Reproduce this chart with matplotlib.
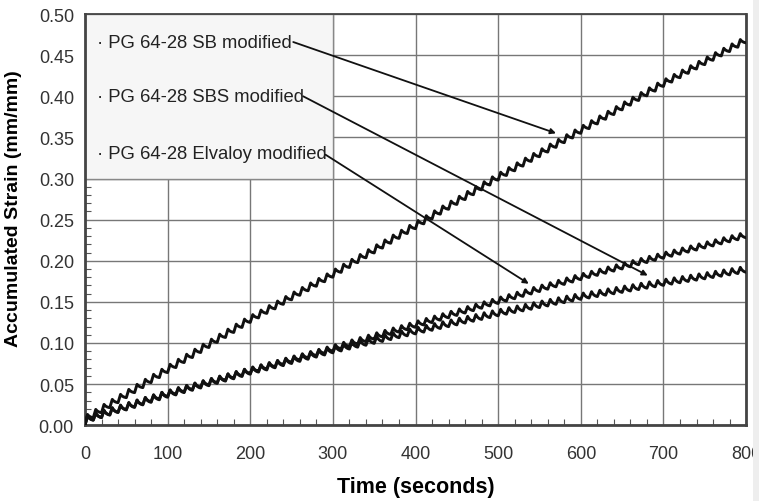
import matplotlib.pyplot as plt
import numpy as np
from matplotlib.ticker import MultipleLocator

plt.rcParams['font.family'] = ['Liberation Sans', 'DejaVu Sans']

# strain read at the end of each 100 s block (mm/mm)
time_marks = [0, 100, 200, 300, 400, 500, 600, 700, 800]
sb_strain = [0.003, 0.064, 0.125, 0.180, 0.239, 0.298, 0.355, 0.412, 0.465]
sbs_strain = [0.003, 0.034, 0.062, 0.088, 0.111, 0.133, 0.153, 0.170, 0.186]
elvaloy_strain = [0.003, 0.035, 0.063, 0.090, 0.119, 0.148, 0.177, 0.203, 0.228]

# strain given back during the rest part of each cycle
sb_recovery = 0.004
sbs_recovery = 0.006
elvaloy_recovery = 0.005

labels = ['PG 64-28 SB modified', 'PG 64-28 SBS modified', 'PG 64-28 Elvaloy modified']
label_y = [0.466, 0.400, 0.330]
arrow_tail = [(252, 0.466), (264, 0.400), (291, 0.329)]
arrow_head = [(570, 0.355), (681, 0.182), (537, 0.172)]

cycle_len = 10
rest_shape = [0.30, 0.52, 0.68, 0.80, 0.89, 0.95, 1.0]


def creep_recovery(marks, strain, recovery):
    # load then rest, repeated over the whole test
    t = [0.0]
    s = [0.0]
    for t0 in range(0, marks[-1], cycle_len):
        end = np.interp(t0 + cycle_len, marks, strain)
        peak = end + recovery
        t.append(t0 + 3)
        s.append(peak)
        for k, f in enumerate(rest_shape):
            t.append(t0 + 4 + k)
            s.append(peak - recovery * f)
    return np.array(t), np.array(s)


fig = plt.figure(figsize=(7.59, 5.02), dpi=100)
ax = fig.add_axes([0.112, 0.151, 0.871, 0.819])

for strain, rec in [(sb_strain, sb_recovery), (sbs_strain, sbs_recovery),
                    (elvaloy_strain, elvaloy_recovery)]:
    t, s = creep_recovery(time_marks, strain, rec)
    ax.plot(t, s, color='#111111', lw=2.1, zorder=3)

ax.set_xlim(0, 800)
ax.set_ylim(0, 0.5)
ax.xaxis.set_major_locator(MultipleLocator(100))
ax.yaxis.set_major_locator(MultipleLocator(0.05))
ax.xaxis.set_minor_locator(MultipleLocator(20))
ax.yaxis.set_minor_locator(MultipleLocator(0.01))
ax.yaxis.set_major_formatter(plt.FormatStrFormatter('%.2f'))
ax.grid(True, which='major', color='#777777', lw=1.0, zorder=0)
ax.tick_params(which='major', length=0, labelsize=13, labelcolor='#333333', pad=8)
ax.tick_params(which='minor', direction='in', length=4, width=0.8, color='#555555')
ax.tick_params(axis='x', pad=14)
for sp in ax.spines.values():
    sp.set_color('#444444')
    sp.set_linewidth(1.3)
ax.spines['left'].set_linewidth(2)
ax.spines['bottom'].set_linewidth(2)
ax.spines['right'].set_linewidth(2)

ax.set_xlabel('Time (seconds)', fontsize=15.5, fontweight='bold', labelpad=10)
ax.set_ylabel('Accumulated Strain (mm/mm)', fontsize=14, fontweight='bold')
ax.yaxis.set_label_coords(-0.095, 0.53)

# label box over the upper-left grid cells
box = plt.Rectangle((0, 0.30), 300, 0.20, facecolor='#f6f6f6', edgecolor='#888888',
                    lw=1.0, zorder=2)
ax.add_patch(box)

for name, y in zip(labels, label_y):
    ax.text(14, y, '\u00b7 ' + name, fontsize=13.3, color='#222222', va='center', zorder=4)

for tail, head in zip(arrow_tail, arrow_head):
    ax.annotate('', xy=head, xytext=tail, zorder=4,
                arrowprops=dict(arrowstyle='-|>', color='#111111', lw=1.3,
                                mutation_scale=8, shrinkA=0, shrinkB=0))

# faint grey strip along the right edge of the page
fig.patches.append(plt.Rectangle((0.992, 0), 0.008, 1, transform=fig.transFigure,
                                 facecolor='#eeeeee', edgecolor='none'))

fig.savefig('out.png', dpi=100)
